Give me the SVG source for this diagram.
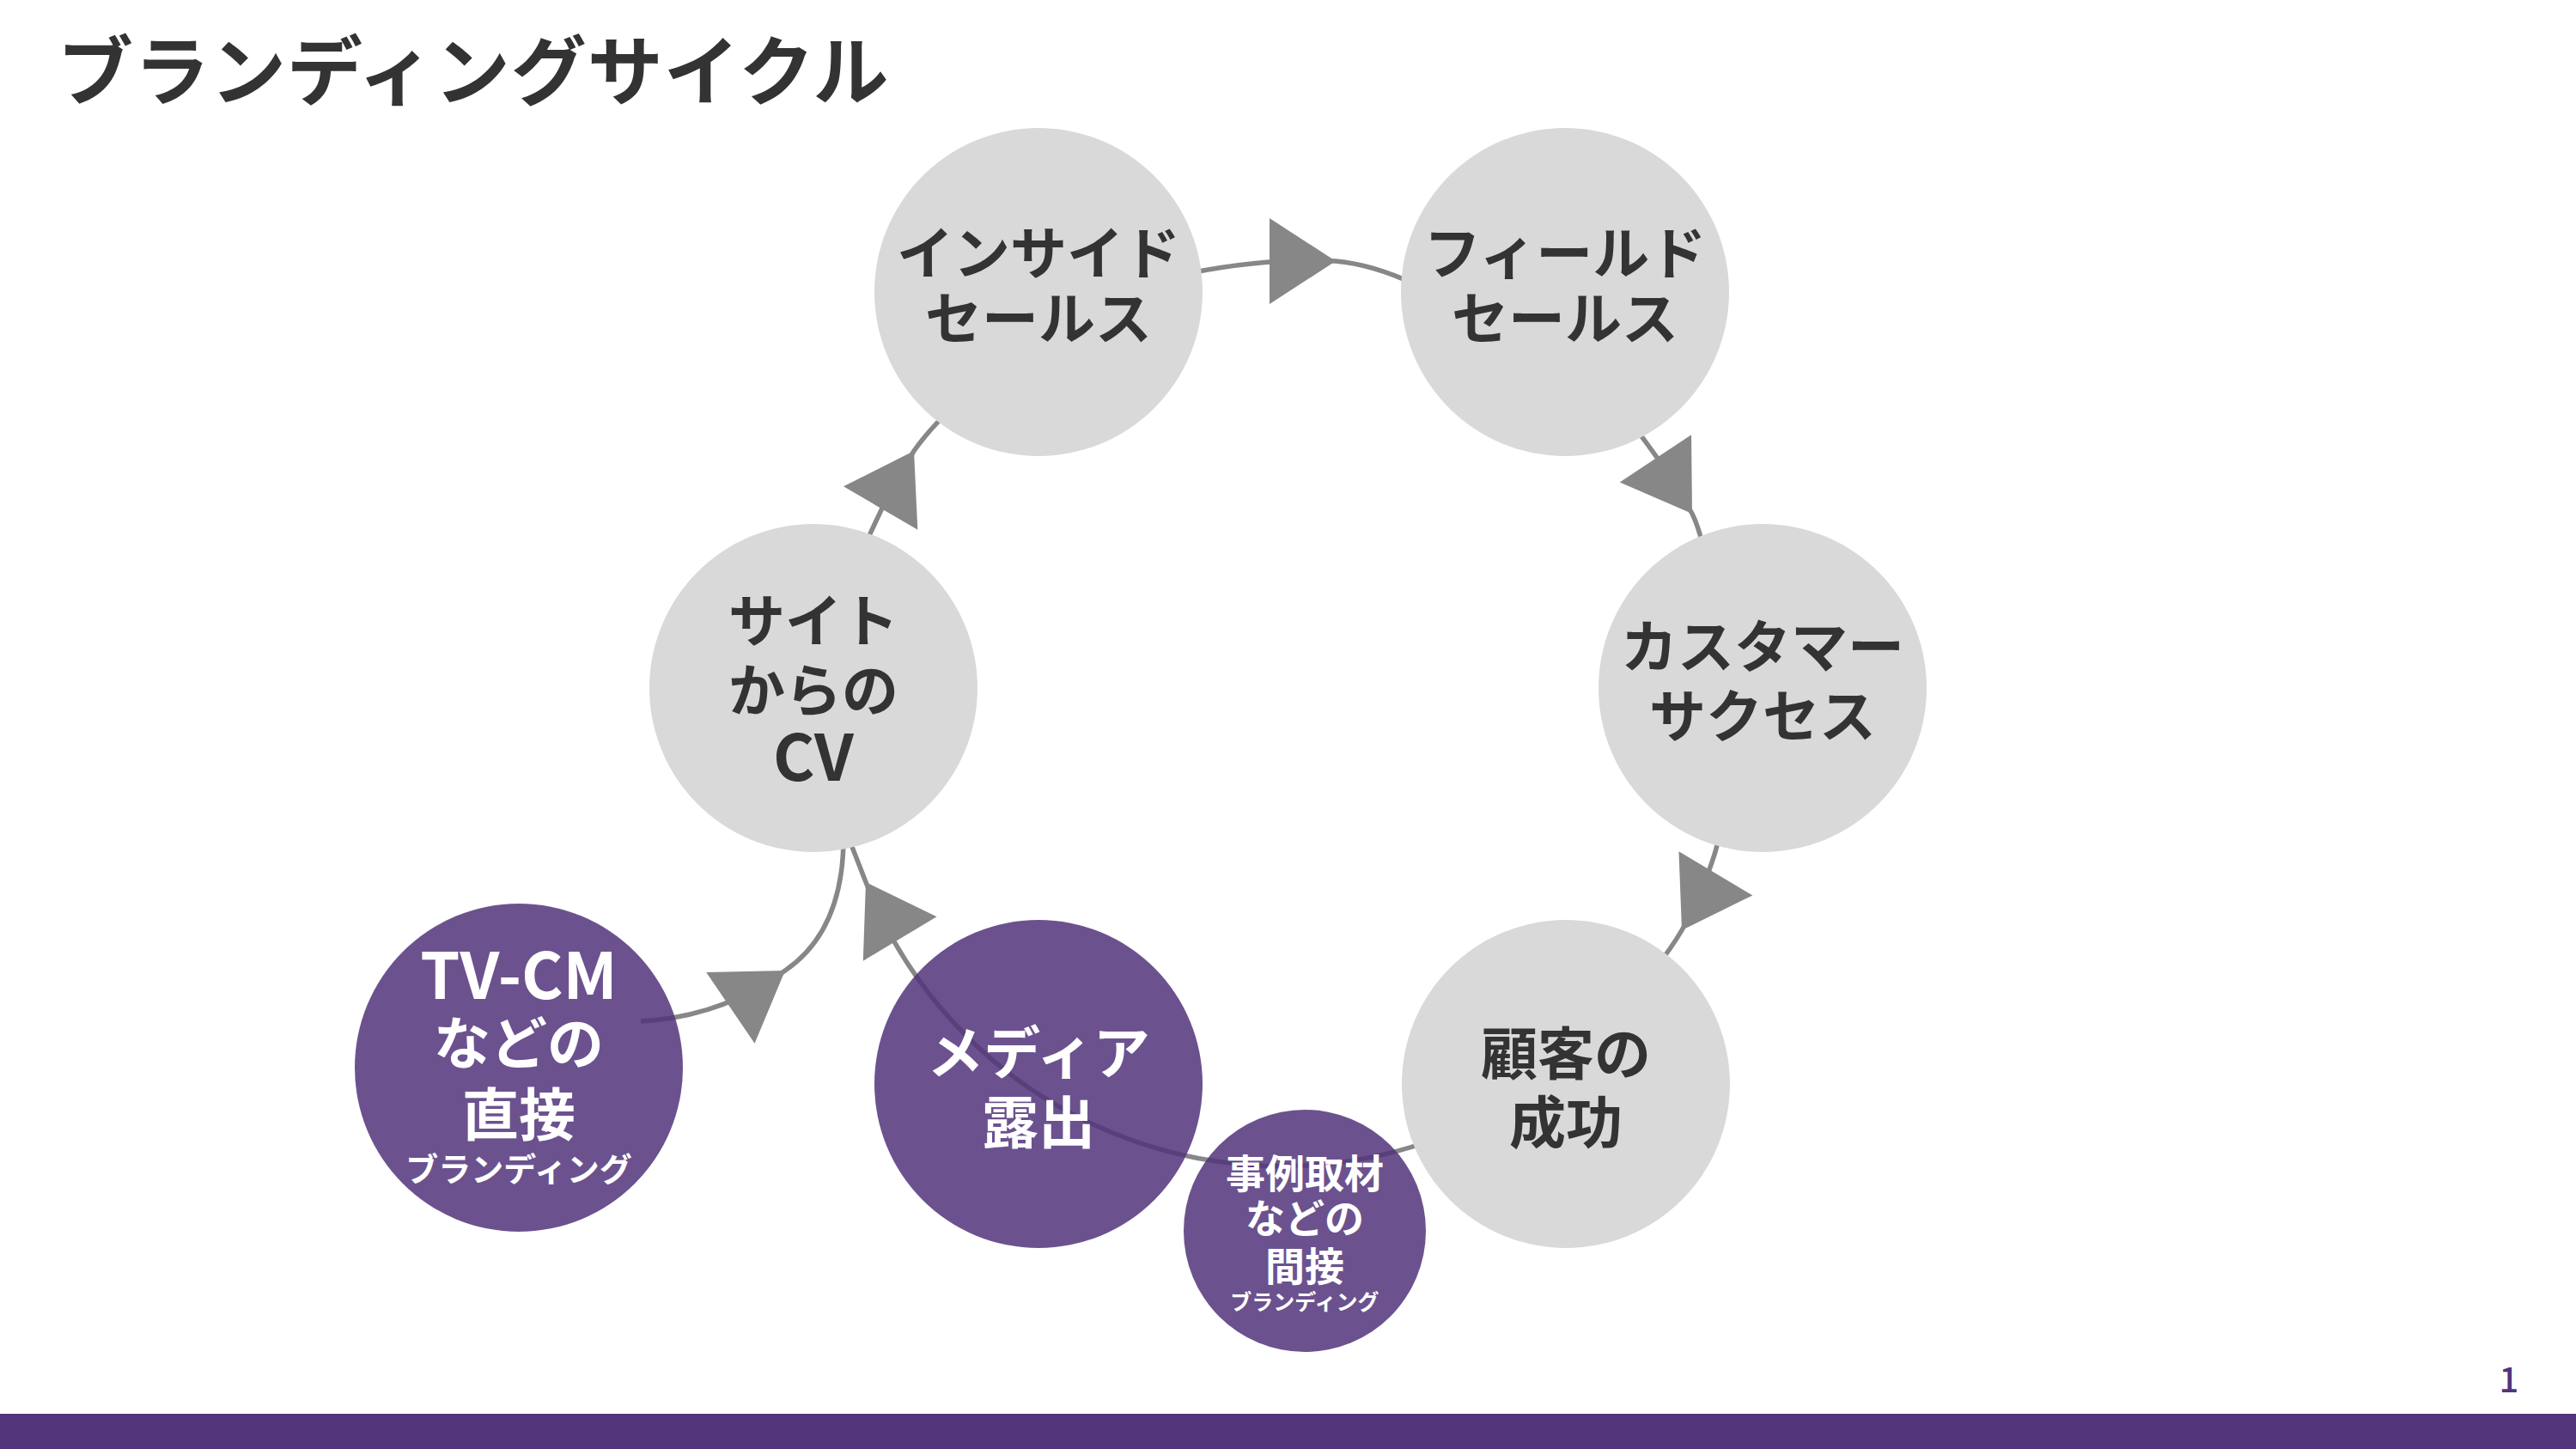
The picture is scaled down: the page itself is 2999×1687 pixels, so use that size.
<svg xmlns="http://www.w3.org/2000/svg" xmlns:xlink="http://www.w3.org/1999/xlink" width="2999" height="1687" viewBox="0 0 2999 1687">
<style>
.bg{fill:#ffffff}
.g{fill:#d9d9d9}
.p{fill:#51347a;fill-opacity:0.85}
.t{font-family:"Noto Sans CJK JP","Noto Sans",sans-serif;font-weight:700;text-anchor:middle}
.dk{fill:#333333}
.wt{fill:#ffffff}
.ln{fill:none;stroke:#878787;stroke-width:5.5}
.ah{fill:#878787}
</style>
<defs>
<path id="ah" d="M0,0 L-77,-50 L-77,50 Z"/>
</defs>
<rect class="bg" x="0" y="0" width="2999" height="1687"/>
<text id="title" x="67" y="115" font-family="Noto Sans CJK JP, sans-serif" font-weight="700" font-size="88" fill="#333333" letter-spacing="1">ブランディングサイクル</text>

<g id="connectors">
<path class="ln" d="M1385,318 Q1475,300 1555,304 Q1598,308 1645,330"/>
<path class="ln" d="M1905,500 Q1945,552 1970,598 Q1977,612 1984,640"/>
<path class="ln" d="M2003,970 Q1988,1030 1958,1083 Q1945,1105 1928,1126"/>
<path class="ln" d="M1660,1330 A520,520 0 0 1 1008,1027 L985,968"/>
<path class="ln" d="M1005,640 Q1030,580 1064,525 Q1084,497 1108,476"/>
<path class="ln" d="M746,1189 Q840,1184 914,1130 C958,1100 982,1050 982,975"/>
<use class="ah" xlink:href="#ah" transform="translate(1555,304) rotate(0)"/>
<use class="ah" xlink:href="#ah" transform="translate(1970,598) rotate(56.4)"/>
<use class="ah" xlink:href="#ah" transform="translate(1958,1083) rotate(120.8)"/>
<use class="ah" xlink:href="#ah" transform="translate(1008,1027) rotate(239)"/>
<use class="ah" xlink:href="#ah" transform="translate(1064,525) rotate(-59.7)"/>
<use class="ah" xlink:href="#ah" transform="translate(914,1130) rotate(-34.3)"/>
</g>

<g id="node-inside-sales">
<circle class="g" cx="1209" cy="340" r="191"/>
<text class="t dk" font-size="66"><tspan x="1209" y="319">インサイド</tspan><tspan x="1209" y="395">セールス</tspan></text>
</g>
<g id="node-field-sales">
<circle class="g" cx="1822" cy="340" r="191"/>
<text class="t dk" font-size="66"><tspan x="1822" y="319">フィールド</tspan><tspan x="1822" y="395">セールス</tspan></text>
</g>
<g id="node-customer-success">
<circle class="g" cx="2052" cy="801" r="191"/>
<text class="t dk" font-size="66"><tspan x="2052" y="777">カスタマー</tspan><tspan x="2052" y="858">サクセス</tspan></text>
</g>
<g id="node-customer-achievement">
<circle class="g" cx="1823" cy="1262" r="191"/>
<text class="t dk" font-size="66"><tspan x="1823" y="1251">顧客の</tspan><tspan x="1823" y="1331">成功</tspan></text>
</g>
<g id="node-site-cv">
<circle class="g" cx="947" cy="801" r="191"/>
<text class="t dk" font-size="66"><tspan x="947" y="747">サイト</tspan><tspan x="947" y="828">からの</tspan><tspan x="947" y="909" font-size="74">CV</tspan></text>
</g>
<g id="node-media">
<circle class="p" cx="1209" cy="1262" r="191"/>
<text class="t wt" font-size="66"><tspan x="1209" y="1250">メディア</tspan><tspan x="1209" y="1331">露出</tspan></text>
</g>
<g id="node-tvcm">
<circle class="p" cx="604" cy="1243" r="191"/>
<text class="t wt" font-size="66"><tspan x="604" y="1163" font-size="74">TV-CM</tspan><tspan x="604" y="1239">などの</tspan><tspan x="604" y="1322">直接</tspan><tspan x="604" y="1375" font-size="38">ブランディング</tspan></text>
</g>
<g id="node-case-study">
<circle class="p" cx="1519" cy="1433" r="141"/>
<text class="t wt" font-size="46"><tspan x="1519" y="1383">事例取材</tspan><tspan x="1519" y="1435">などの</tspan><tspan x="1519" y="1491">間接</tspan><tspan x="1519" y="1525" font-size="25">ブランディング</tspan></text>
</g>

<text id="page-number" x="2921" y="1621" font-family="Noto Sans CJK JP, sans-serif" font-weight="500" font-size="40" fill="#51347a" text-anchor="middle">1</text>
<rect id="footer-bar" x="0" y="1646" width="2999" height="41" fill="#51347a"/>
</svg>
